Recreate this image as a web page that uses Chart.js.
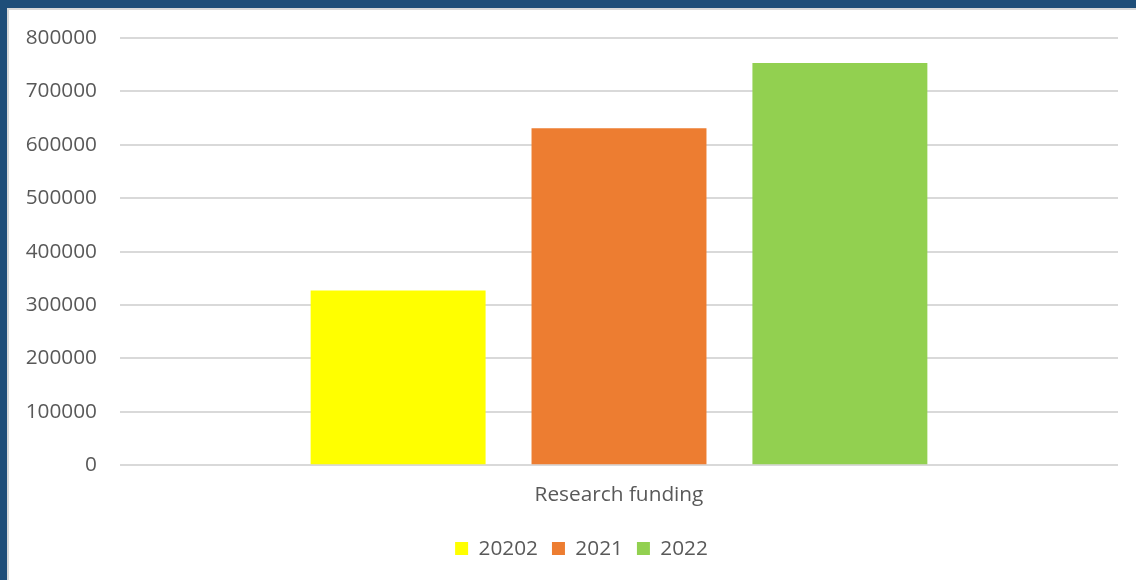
<!DOCTYPE html>
<html>
<head>
<meta charset="utf-8">
<script src="https://cdn.jsdelivr.net/npm/chart.js@4"></script>
<style>
  html, body { margin: 0; padding: 0; background: #1f4e79; overflow: hidden; }
  #frame { position: absolute; left: 7px; top: 8px; width: 1129px; height: 572px;
           border-left: 2px solid #d9d9d9; border-top: 2px solid #d9d9d9; background: #fff; }
  #wrap { position: absolute; left: 0; top: 0; width: 1127px; height: 570px; }
</style>
</head>
<body>
<div id="frame"><div id="wrap"><canvas id="funding"></canvas></div></div>
<script>
// ===== RESEARCH FUNDING BY YEAR =====
const categories = ['Research funding'];
const years = ['20202', '2021', '2022'];
const funding2020 = [327000];
const funding2021 = [631000];
const funding2022 = [753000];
const yearColors = ['#ffff00', '#ed7d31', '#92d050'];
const yTicks = [0, 100000, 200000, 300000, 400000, 500000, 600000, 700000, 800000];

const textFont = { family: "'Open Sans', sans-serif", size: 20.8 };
const seriesValues = [funding2020, funding2021, funding2022];

// nudge the legend sideways so it sits where the original put it
const legendNudge = {
  id: 'legendNudge',
  afterLayout(chart) {
    const lg = chart.legend;
    lg.left += 18; lg.right += 18;
  }
};

new Chart(document.getElementById('funding'), {
  type: 'bar',
  data: {
    labels: categories,
    datasets: years.map((y, i) => ({
      label: y,
      data: seriesValues[i],
      backgroundColor: yearColors[i],
      borderWidth: 0,
      categoryPercentage: 0.664,
      barPercentage: 0.792
    }))
  },
  options: {
    responsive: true,
    maintainAspectRatio: false,
    animation: false,
    layout: { padding: { left: 0, right: 18, top: 28, bottom: 11 } },
    plugins: {
      legend: {
        position: 'bottom',
        labels: { boxWidth: 13, boxHeight: 13, padding: 14, color: '#595959', font: textFont }
      },
      tooltip: { enabled: false }
    },
    scales: {
      x: {
        grid: { display: false, drawTicks: false },
        border: { display: false },
        ticks: { color: '#595959', font: textFont, padding: 17 }
      },
      y: {
        min: 0,
        max: 800000,
        afterBuildTicks: (scale) => { scale.ticks = yTicks.map(v => ({ value: v })); },
        afterFit: (scale) => {
          scale.width = 111;
          scale.paddingTop = 0;
          scale.paddingBottom = 0;
        },
        grid: { color: '#d9d9d9', lineWidth: 2, drawTicks: false },
        border: { display: false },
        ticks: { color: '#595959', font: textFont, padding: 23, callback: (v) => String(v) }
      }
    }
  },
  plugins: [legendNudge]
});
</script>
</body>
</html>
